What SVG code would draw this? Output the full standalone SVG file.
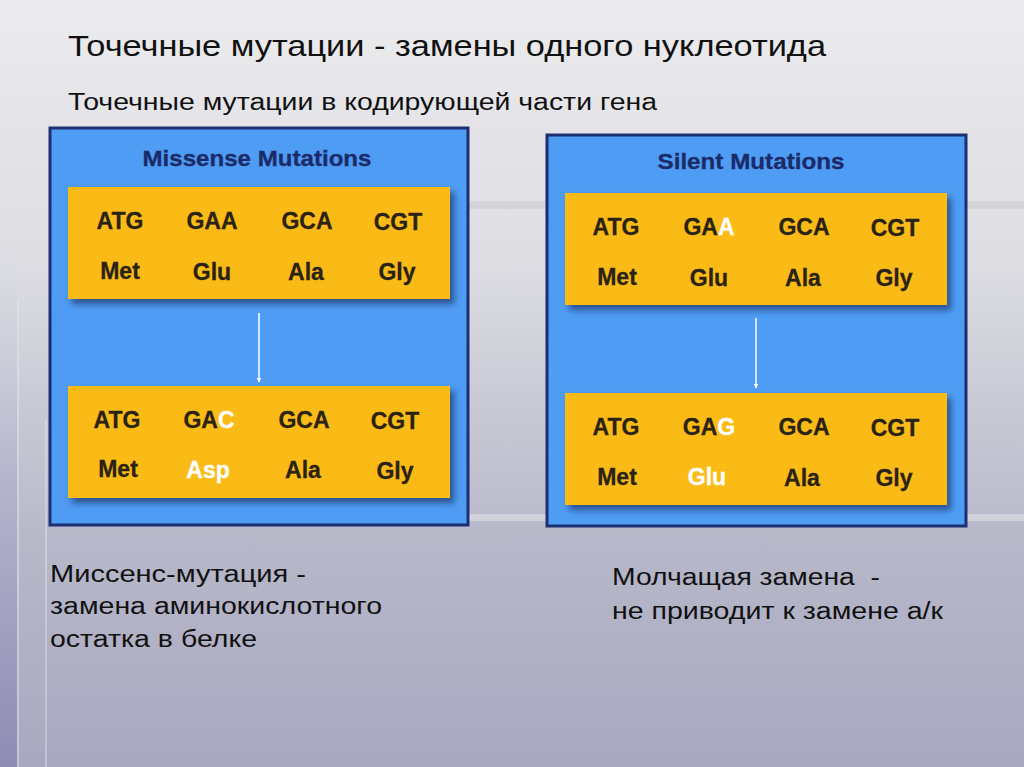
<svg xmlns="http://www.w3.org/2000/svg" width="1024" height="767" viewBox="0 0 1024 767">
<defs>
<linearGradient id="bg" x1="0" y1="0" x2="0" y2="1">
<stop offset="0" stop-color="#ececee"/>
<stop offset="0.35" stop-color="#dcdce2"/>
<stop offset="0.7" stop-color="#b8b8ca"/>
<stop offset="1" stop-color="#a9a8c0"/>
</linearGradient>
<linearGradient id="stripe" x1="0" y1="0" x2="0" y2="1">
<stop offset="0" stop-color="#e4e4ea" stop-opacity="0"/>
<stop offset="0.5" stop-color="#b4b4cc"/>
<stop offset="1" stop-color="#8e8cb4"/>
</linearGradient>
<filter id="sh" x="-5%" y="-5%" width="115%" height="125%">
<feDropShadow dx="4" dy="5" stdDeviation="3" flood-color="#10204a" flood-opacity="0.6"/>
</filter>
<marker id="ah" viewBox="0 0 10 10" refX="9" refY="5" markerWidth="5" markerHeight="6" orient="auto" markerUnits="userSpaceOnUse">
<path d="M0,0 L10,5 L0,10 z" fill="#ffffff"/>
</marker>
<style>
.t{font-family:"Liberation Sans",Arial,sans-serif;fill:#111111;white-space:pre}
.h{font-size:30px}
.s{font-size:23px}
.b{font-size:23px}
.pt{font-family:"Liberation Sans",Arial,sans-serif;font-weight:bold;font-size:21.5px;fill:#1b2b6a;text-anchor:middle;stroke:#1b2b6a;stroke-width:0.3}
.c{font-family:"Liberation Sans",Arial,sans-serif;font-weight:bold;font-size:23px;fill:#2a2212;text-anchor:middle;stroke:#2a2212;stroke-width:0.3}
.w{fill:#ffffff;stroke:#ffffff}
.panel{fill:#4f9cf4;stroke:#1c2f70;stroke-width:3}
.yb{fill:#fbbb12}
.conn{stroke:#ffffff;stroke-width:1.5;fill:none}
</style>
</defs>
<rect x="0" y="0" width="1024" height="767" fill="url(#bg)"/>
<rect x="0" y="200" width="17" height="567" fill="url(#stripe)"/>
<line x1="18" y1="300" x2="18" y2="767" stroke="#e8e8f0" stroke-width="1.5" opacity="0.6"/>
<line x1="46" y1="420" x2="46" y2="767" stroke="#e8e8f0" stroke-width="1.5" opacity="0.5"/>
<rect x="468" y="201" width="556" height="8" fill="#cfcfd4" opacity="0.8"/>
<rect x="468" y="514" width="556" height="7" fill="#d8d8de" opacity="0.8"/>

<g id="title">
<text class="t h" x="68" y="56" textLength="758" lengthAdjust="spacingAndGlyphs">Точечные мутации - замены одного нуклеотида</text>
</g>
<g id="subtitle">
<text class="t s" x="68" y="110" textLength="589" lengthAdjust="spacingAndGlyphs">Точечные мутации в кодирующей части гена</text>
</g>

<g id="missense-panel">
<rect class="panel" x="50" y="128" width="418" height="397"/>
<text class="pt" x="257" y="166" textLength="229" lengthAdjust="spacingAndGlyphs">Missense Mutations</text>
</g>
<g id="missense-original">
<rect class="yb" x="68" y="187" width="382" height="112" filter="url(#sh)"/>
<text class="c" x="120" y="229">ATG</text>
<text class="c" x="212" y="229">GAA</text>
<text class="c" x="307" y="229">GCA</text>
<text class="c" x="398" y="230">CGT</text>
<text class="c" x="120" y="279">Met</text>
<text class="c" x="212" y="280">Glu</text>
<text class="c" x="306" y="280">Ala</text>
<text class="c" x="397" y="280">Gly</text>
</g>
<g id="missense-mutant">
<rect class="yb" x="68" y="386" width="382" height="112" filter="url(#sh)"/>
<text class="c" x="117" y="428">ATG</text>
<text class="c" x="209" y="428">GA<tspan class="w">C</tspan></text>
<text class="c" x="304" y="428">GCA</text>
<text class="c" x="395" y="429">CGT</text>
<text class="c" x="118" y="477">Met</text>
<text class="c w" x="208" y="478">Asp</text>
<text class="c" x="303" y="478">Ala</text>
<text class="c" x="395" y="479">Gly</text>
</g>

<g id="silent-panel">
<rect class="panel" x="547" y="135" width="419" height="391"/>
<text class="pt" x="751" y="169" textLength="187" lengthAdjust="spacingAndGlyphs">Silent Mutations</text>
</g>
<g id="silent-original">
<rect class="yb" x="565" y="193" width="382" height="112" filter="url(#sh)"/>
<text class="c" x="616" y="235">ATG</text>
<text class="c" x="709" y="235">GA<tspan class="w">A</tspan></text>
<text class="c" x="804" y="235">GCA</text>
<text class="c" x="895" y="236">CGT</text>
<text class="c" x="617" y="285">Met</text>
<text class="c" x="709" y="286">Glu</text>
<text class="c" x="803" y="286">Ala</text>
<text class="c" x="894" y="286">Gly</text>
</g>
<g id="silent-mutant">
<rect class="yb" x="565" y="393" width="382" height="112" filter="url(#sh)"/>
<text class="c" x="616" y="435">ATG</text>
<text class="c" x="709" y="435">GA<tspan class="w">G</tspan></text>
<text class="c" x="804" y="435">GCA</text>
<text class="c" x="895" y="436">CGT</text>
<text class="c" x="617" y="485">Met</text>
<text class="c w" x="707" y="485">Glu</text>
<text class="c" x="802" y="486">Ala</text>
<text class="c" x="894" y="486">Gly</text>
</g>

<g id="connectors">
<line class="conn" x1="259" y1="313" x2="259" y2="382" marker-end="url(#ah)"/>
<line class="conn" x1="756" y1="318" x2="756" y2="388" marker-end="url(#ah)"/>
</g>

<g id="missense-caption">
<text class="t b" x="50" y="582" textLength="256" lengthAdjust="spacingAndGlyphs">Миссенс-мутация -</text>
<text class="t b" x="50" y="614" textLength="332" lengthAdjust="spacingAndGlyphs">замена аминокислотного</text>
<text class="t b" x="50" y="647" textLength="207" lengthAdjust="spacingAndGlyphs">остатка в белке</text>
</g>
<g id="silent-caption">
<text class="t b" x="612" y="585" textLength="268" lengthAdjust="spacingAndGlyphs" xml:space="preserve">Молчащая замена  -</text>
<text class="t b" x="612" y="619" textLength="331" lengthAdjust="spacingAndGlyphs">не приводит к замене а/к</text>
</g>
</svg>
